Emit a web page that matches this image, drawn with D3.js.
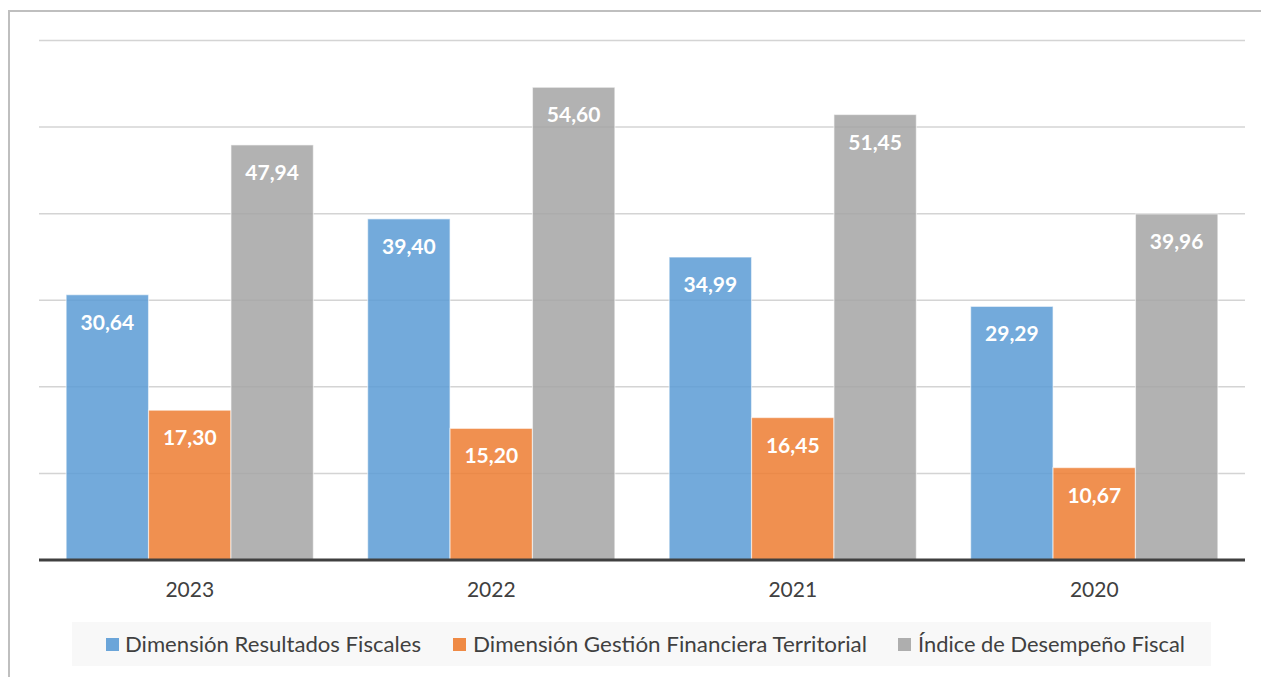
<!DOCTYPE html>
<html>
<head>
<meta charset="utf-8">
<script src="https://cdn.jsdelivr.net/npm/d3@7"></script>
<style>
  html, body { margin: 0; padding: 0; background: #fff; }
  svg { display: block; }
</style>
</head>
<body>
<svg id="chart" width="1261" height="677"></svg>
<script>
// Years shown along the x axis
const years = ["2023", "2022", "2021", "2020"];
// Series names (legend order)
const seriesNames = [
  "Dimensión Resultados Fiscales",
  "Dimensión Gestión Financiera Territorial",
  "Índice de Desempeño Fiscal"
];
// Values per series, in year order
const resultadosFiscales = [30.64, 39.40, 34.99, 29.29];
const gestionFinanciera = [17.30, 15.20, 16.45, 10.67];
const desempenoFiscal = [47.94, 54.60, 51.45, 39.96];
const seriesColors = ["#5B9BD5", "#ED7D31", "#A5A5A5"];
const yTicks = [0, 10, 20, 30, 40, 50, 60];

const seriesValues = [resultadosFiscales, gestionFinanciera, desempenoFiscal];
const rows = [];
years.forEach((yr, i) => {
  seriesNames.forEach((s, j) => rows.push({ year: yr, series: s, idx: j, value: seriesValues[j][i] }));
});

const svg = d3.select("#chart");
const font = "Lato, 'Open Sans', sans-serif";

// outer frame
svg.append("rect")
  .attr("x", 9).attr("y", 11)
  .attr("width", 1270).attr("height", 700)
  .attr("fill", "none")
  .attr("stroke", "#bfbfbf")
  .attr("stroke-width", 2);

const plot = { left: 39, right: 1245, top: 40.5, bottom: 560 };

const x0 = d3.scaleBand().domain(years)
  .range([plot.left, plot.right])
  .paddingInner(0.18).paddingOuter(0.09);
const x1 = d3.scaleBand().domain(seriesNames)
  .range([0, x0.bandwidth()]);
const y = d3.scaleLinear().domain([0, 60]).range([plot.bottom, plot.top]);
const color = d3.scaleOrdinal().domain(seriesNames).range(seriesColors);

// horizontal gridlines
svg.append("g")
  .selectAll("line")
  .data(yTicks.filter(t => t > 0))
  .join("line")
  .attr("x1", plot.left).attr("x2", plot.right)
  .attr("y1", d => y(d)).attr("y2", d => y(d))
  .attr("stroke", "#d4d4d4")
  .attr("stroke-width", 1.5);

// bars
svg.append("g")
  .selectAll("rect")
  .data(rows)
  .join("rect")
  .attr("x", d => x0(d.year) + x1(d.series))
  .attr("y", d => y(d.value))
  .attr("width", x1.bandwidth())
  .attr("height", d => y(0) - y(d.value))
  .attr("fill", d => color(d.series))
  .attr("fill-opacity", 0.85)
  .attr("stroke", "rgba(255,255,255,0.55)")
  .attr("stroke-width", 1.2);

// value labels inside the top of each bar
const fmt = v => d3.format(".2f")(v).replace(".", ",");
svg.append("g")
  .selectAll("text")
  .data(rows)
  .join("text")
  .attr("x", d => x0(d.year) + x1(d.series) + x1.bandwidth() / 2)
  .attr("y", d => y(d.value) + 35)
  .attr("text-anchor", "middle")
  .attr("font-family", font)
  .attr("font-weight", "bold")
  .attr("font-size", 21)
  .attr("fill", "#ffffff")
  .text(d => fmt(d.value));

// x axis baseline and category labels
const xAxis = d3.axisBottom(x0).tickSize(0).tickPadding(22);
const gx = svg.append("g")
  .attr("transform", `translate(0,${plot.bottom})`)
  .call(xAxis);
gx.select(".domain").remove();
gx.selectAll("text")
  .attr("font-family", font)
  .attr("font-size", 21)
  .attr("fill", "#404040");
svg.append("line")
  .attr("x1", plot.left).attr("x2", plot.right)
  .attr("y1", plot.bottom).attr("y2", plot.bottom)
  .attr("stroke", "#404040")
  .attr("stroke-width", 3);

// legend
svg.append("rect")
  .attr("x", 72).attr("y", 622)
  .attr("width", 1139).attr("height", 44)
  .attr("fill", "#f8f8f8");
const legendX = [106, 453, 898];
const legendTextWidth = [296, 394, 267];
const lg = svg.append("g").selectAll("g")
  .data(seriesNames)
  .join("g")
  .attr("transform", (d, i) => `translate(${legendX[i]},652)`);
lg.append("rect")
  .attr("x", 0).attr("y", -14)
  .attr("width", 13).attr("height", 13)
  .attr("fill", d => color(d))
  .attr("fill-opacity", 0.9);
lg.append("text")
  .attr("x", (d, i) => i === 0 ? 19 : 20)
  .attr("y", 0)
  .attr("font-family", font)
  .attr("font-size", 21)
  .attr("fill", "#404040")
  .attr("textLength", (d, i) => legendTextWidth[i])
  .attr("lengthAdjust", "spacingAndGlyphs")
  .text(d => d);
</script>
</body>
</html>
